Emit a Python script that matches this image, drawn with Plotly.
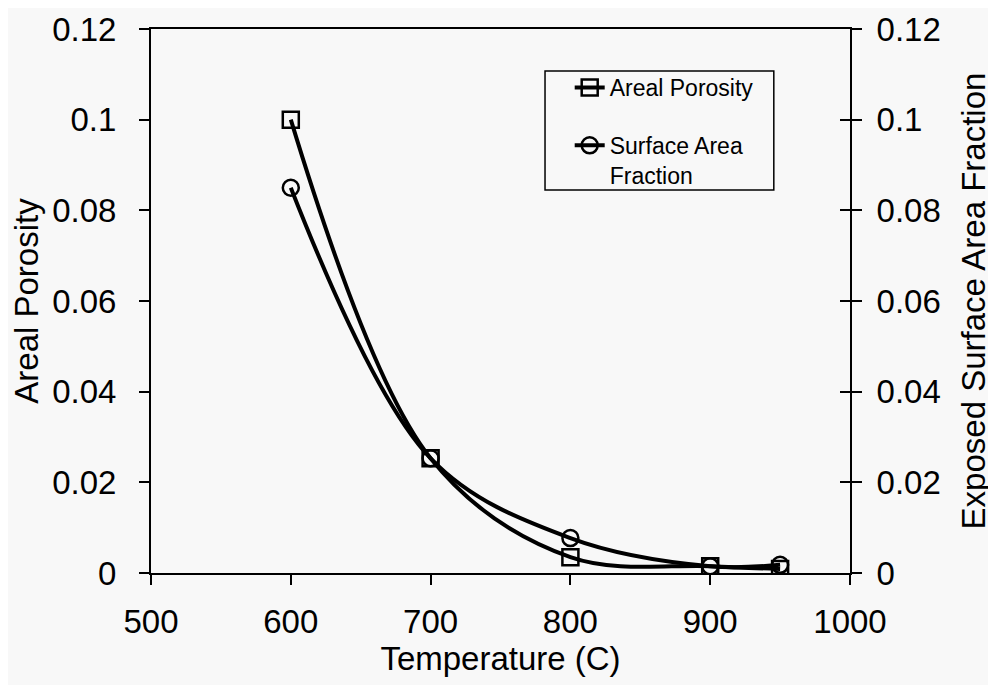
import plotly.graph_objects as go

temperature = [600, 700, 800, 900, 950]
areal_porosity = [0.100, 0.0253, 0.0035, 0.0015, 0.0009]
surface_area_fraction = [0.085, 0.0253, 0.0077, 0.0015, 0.0018]

x_ticks = [500, 600, 700, 800, 900, 1000]
y_ticks = [0, 0.02, 0.04, 0.06, 0.08, 0.1, 0.12]
y_ticktext = ["0", "0.02", "0.04", "0.06", "0.08", "0.1", "0.12"]

FONT = "Liberation Sans, Arial, sans-serif"
BG = "#f8f8f8"

fig = go.Figure()
fig.add_trace(go.Scatter(
    x=temperature, y=areal_porosity, name="Areal Porosity", legendgroup="a",
    mode="lines+markers", line=dict(color="black", width=4, shape="spline", smoothing=1.0),
    marker=dict(symbol="square-open", size=16, color="black", line=dict(width=2.5)),
))
fig.add_trace(go.Scatter(
    x=temperature, y=surface_area_fraction, name="Surface Area<br>Fraction", legendgroup="b",
    mode="lines+markers", line=dict(color="black", width=4, shape="spline", smoothing=1.0),
    marker=dict(symbol="circle-open", size=16, color="black", line=dict(width=2.5)),
    yaxis="y2",
))

axis_common = dict(
    showgrid=False, zeroline=False, showline=True, linecolor="black", linewidth=2,
    ticks="outside", ticklen=10, tickwidth=1.5, tickcolor="black", automargin=False,
    tickfont=dict(family=FONT, size=33, color="black"),
)

fig.update_layout(
    width=996, height=685,
    paper_bgcolor=BG, plot_bgcolor=BG,
    margin=dict(l=143, r=154, t=21, b=120),
    font=dict(family=FONT, color="black"),
    xaxis=dict(
        range=[500, 1000], tickvals=x_ticks, mirror=True, ticklabelstandoff=8,
        title=dict(text="Temperature (C)", font=dict(family=FONT, size=33), standoff=6),
        **axis_common,
    ),
    yaxis=dict(
        range=[0, 0.12], tickvals=y_ticks, ticktext=y_ticktext, ticklabelstandoff=16,
        title=dict(text="Areal Porosity", font=dict(family=FONT, size=33), standoff=12),
        **axis_common,
    ),
    yaxis2=dict(
        range=[0, 0.12], tickvals=y_ticks, ticktext=y_ticktext,
        overlaying="y", side="right", ticklabelstandoff=8,
        title=dict(text="Exposed Surface Area Fraction", font=dict(family=FONT, size=33), standoff=22),
        **axis_common,
    ),
    yaxis3=dict(
        range=[0, 0.12], tickvals=y_ticks, overlaying="y", side="right", automargin=False,
        showgrid=False, zeroline=False, showline=False, showticklabels=False,
        ticks="inside", ticklen=10, tickwidth=1.5, tickcolor="black",
    ),
    legend=dict(
        x=0.599, y=0.932, xanchor="left", yanchor="top", valign="top",
        bgcolor="rgba(0,0,0,0)", borderwidth=0,
        font=dict(family=FONT, size=23, color="black"),
        tracegroupgap=25, itemwidth=30,
    ),
    shapes=[dict(
        type="rect", xref="paper", yref="paper",
        x0=0.5637, x1=0.891, y0=0.704, y1=0.923,
        line=dict(color="black", width=1.5), fillcolor=BG, layer="below",
    )],
    showlegend=True,
)

# invisible helper trace so the inside right-axis ticks are drawn
fig.add_trace(go.Scatter(x=[None], y=[None], yaxis="y3", showlegend=False, hoverinfo="skip"))

fig.write_html("out.html")
